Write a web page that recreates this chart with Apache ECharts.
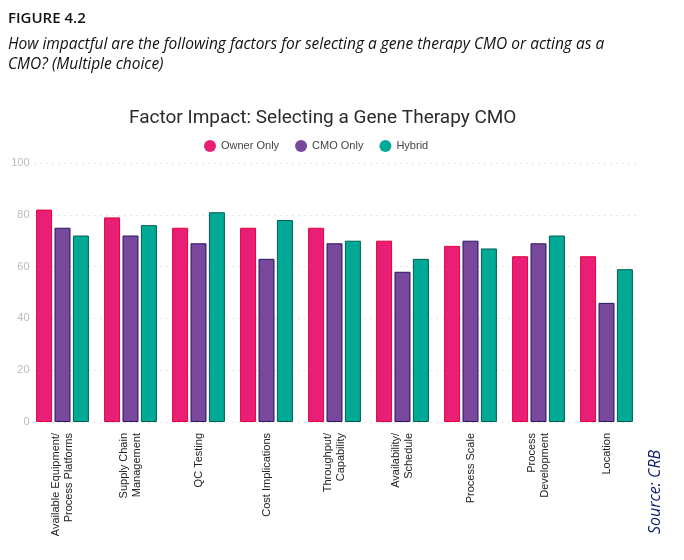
<!DOCTYPE html>
<html>
<head>
<meta charset="utf-8">
<script src="https://cdn.jsdelivr.net/npm/echarts@6/dist/echarts.min.js"></script>
<style>
html,body{margin:0;padding:0;background:#fff;}
#chart{width:684px;height:560px;}
</style>
</head>
<body>
<div id="chart"></div>
<script>
const categories = [
  "Available Equipment/\nProcess Platforms",
  "Supply Chain\nManagement",
  "QC Testing",
  "Cost Implications",
  "Throughput/\nCapability",
  "Availability/\nSchedule",
  "Process Scale",
  "Process\nDevelopment",
  "Location"
];
const seriesNames = ["Owner Only", "CMO Only", "Hybrid"];
const ownerOnly = [82, 79, 75, 75, 75, 70, 68, 64, 64];
const cmoOnly   = [75, 72, 69, 63, 69, 58, 70, 69, 46];
const hybrid    = [72, 76, 81, 78, 70, 63, 67, 72, 59];
const yTicks = { min: 0, max: 100, interval: 20 };

const fills = ["#E91E76", "#77489C", "#00A896"];
const borders = ["#E3003A", "#2A1560", "#00604F"];
const values = [ownerOnly, cmoOnly, hybrid];

const chart = echarts.init(document.getElementById('chart'));
chart.setOption({
  animation: false,
  backgroundColor: '#fff',
  title: {
    text: 'Factor Impact: Selecting a Gene Therapy CMO',
    left: 124,
    top: 104,
    textStyle: { fontFamily: 'Roboto', fontSize: 19, fontWeight: 'normal', color: '#2b2b2b' }
  },
  legend: {
    top: 135,
    left: 199,
    icon: 'circle',
    itemWidth: 12,
    itemHeight: 12,
    itemGap: 16,
    itemStyle: { borderWidth: 0 },
    textStyle: { fontFamily: 'Liberation Sans', fontSize: 11, color: '#444' },
    data: seriesNames
  },
  graphic: [
    { type: 'text', left: 8, top: 11,
      style: { text: 'FIGURE 4.2', font: '600 15px "Open Sans"', fill: '#111' } },
    { type: 'text', left: 8, top: 35,
      style: { text: 'How impactful are the following factors for selecting a gene therapy CMO or acting as a\nCMO? (Multiple choice)',
               font: 'italic 15.5px "Open Sans"', fill: '#111', lineHeight: 20 } },
    { type: 'text',
      style: { text: 'Source: CRB', font: 'italic 16px "Open Sans"', fill: '#0D1A6E' },
      rotation: Math.PI / 2, x: 647, y: 534 }
  ],
  grid: { left: 28.5, right: 43.5, top: 163, bottom: 138, containLabel: false },
  xAxis: {
    type: 'category',
    data: categories,
    axisLine: { show: false },
    axisTick: { show: false },
    axisLabel: {
      interval: 0, rotate: 90, margin: 11,
      fontFamily: 'Liberation Sans', fontSize: 11, color: '#222', lineHeight: 13
    }
  },
  yAxis: {
    type: 'value',
    min: yTicks.min, max: yTicks.max, interval: yTicks.interval,
    axisLine: { show: false },
    axisTick: { show: false },
    axisLabel: { margin: -1, fontFamily: 'Liberation Sans', fontSize: 11, color: '#bbb' },
    splitLine: { lineStyle: { type: [1, 5], color: '#c8c8c8', width: 1 } }
  },
  series: seriesNames.map((n, i) => ({
    name: n,
    type: 'bar',
    data: values[i],
    barWidth: 16,
    barGap: '15%',
    itemStyle: { color: fills[i], borderColor: borders[i], borderWidth: 1 }
  }))
});
</script>
</body>
</html>
